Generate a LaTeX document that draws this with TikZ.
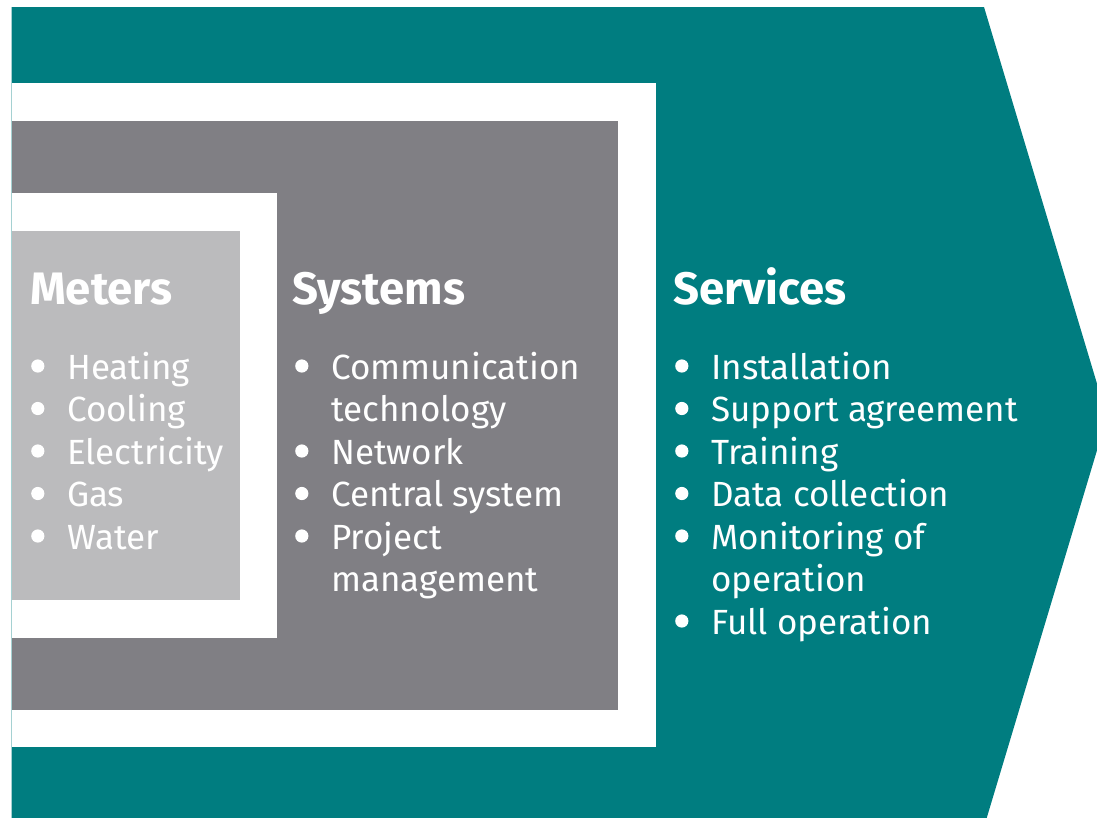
\documentclass[tikz,border=0pt]{standalone}
\usepackage{fontspec}
\setmainfont{Fira Sans}
\usetikzlibrary{calc}
\definecolor{teal}{RGB}{0,125,128}
\definecolor{darkgrey}{RGB}{128,127,132}
\definecolor{lightgrey}{RGB}{187,187,189}
\tikzset{
    heading/.style={anchor=base west, inner sep=0pt, text=white, font=\fontsize{45.5}{52}\selectfont\bfseries},
    itemlist/.style={anchor=base west, inner sep=0pt, text=white, font=\fontsize{35}{42.5}\selectfont}
}
\newcommand{\bul}{\makebox[36pt][l]{\tikz[baseline=-13pt]\fill[white] (0,0) circle (6.6pt);}}

\begin{document}
\begin{tikzpicture}[x=1pt,y=-1pt]
            \useasboundingbox (0,0) rectangle (1097,817);
            \clip (0,0) rectangle (1097,817);
            \fill[teal] (11.5,7)--(984,7)--(1107,417)--(984,827)--(11.5,827)--cycle;
            \fill[white] (12,83) rectangle (655.5,747);
            \fill[darkgrey] (12,121) rectangle (618,710);
            \fill[white] (12,193) rectangle (277,638);
            \fill[lightgrey] (12,230.5) rectangle (240,600);
            \node[heading] (meters) at (30,304) {Meters};
            \node[heading] (systems) at (292,304) {Systems};
            \node[heading] (services) at (673,304) {Services};
            \node[itemlist] (meterlist) at (31,379) {\begin{tabular}[t]{@{}l@{}l@{}}
                \bul & Heating\\ \bul & Cooling\\ \bul & Electricity\\ \bul & Gas\\ \bul & Water
            \end{tabular}};
            \node[itemlist] (systemlist) at (295,379) {\begin{tabular}[t]{@{}l@{}l@{}}
                \bul & Communication\\ & technology\\ \bul & Network\\ \bul & Central system\\ \bul & Project\\ & management
            \end{tabular}};
            \node[itemlist] (servicelist) at (675,379) {\begin{tabular}[t]{@{}l@{}l@{}}
                \bul & Installation\\ \bul & Support agreement\\ \bul & Training\\ \bul & Data collection\\ \bul & Monitoring of\\ & operation\\ \bul & Full operation
            \end{tabular}};
        \end{tikzpicture}
\end{document}
